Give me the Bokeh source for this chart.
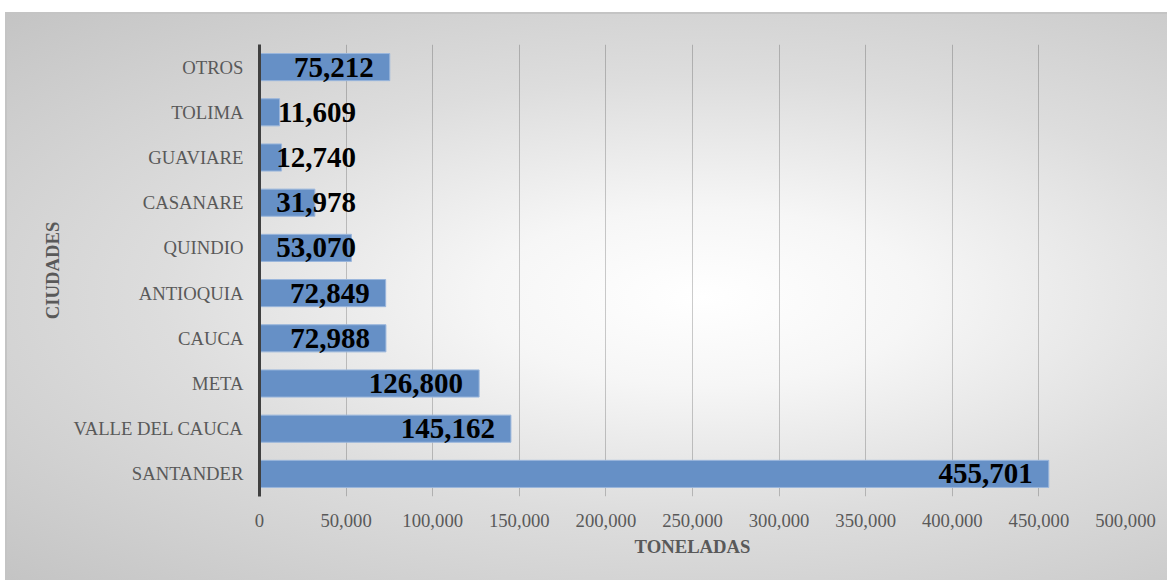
from bokeh.plotting import figure
from bokeh.models import ColumnDataSource, NumeralTickFormatter, FactorRange, Range1d, FixedTicker
from bokeh.core.properties import value
from bokeh.embed import file_html
from bokeh.resources import INLINE

cities = ["SANTANDER", "VALLE DEL CAUCA", "META", "CAUCA", "ANTIOQUIA",
          "QUINDIO", "CASANARE", "GUAVIARE", "TOLIMA", "OTROS"]
tons = [455701, 145162, 126800, 72988, 72849, 53070, 31978, 12740, 11609, 75212]
x_ticks = [0, 50000, 100000, 150000, 200000, 250000, 300000, 350000, 400000, 450000, 500000]

FONT = "Liberation Serif"
TXT = "18.7px"

src = ColumnDataSource(dict(
    city=cities,
    tons=tons,
    label=["{:,}".format(v) for v in tons],
    lx=[max(v, 65000) for v in tons],
))

p = figure(
    width=1162, height=568,
    y_range=FactorRange(factors=cities, range_padding=0),
    x_range=Range1d(0, 500000),
    output_backend="svg", toolbar_location=None,
    min_border_left=252, min_border_right=44, min_border_top=30, min_border_bottom=86,
    border_fill_alpha=0, background_fill_alpha=0, outline_line_color=None,
    styles={"background": "radial-gradient(ellipse at 60% 50%, #ffffff 0%, #f6f6f6 22%, #dddddd 55%, #c4c4c4 100%)",
            "border-top": "2px solid #c4c4c4", "border-left": "2px solid #c4c4c4",
            "margin-top": "12px", "margin-left": "5px"},
)

p.hbar(y="city", right="tons", left=0, height=0.6, source=src,
       fill_color="#6690c6", line_color="#9ab6dc", line_width=1)

p.text(x="lx", y="city", text="label", source=src,
       text_align="right", text_baseline="middle", x_offset=-16,
       text_font=value(FONT), text_font_style="bold", text_font_size="29px",
       text_color="#000000")

p.xaxis.ticker = FixedTicker(ticks=x_ticks)
p.xaxis.formatter = NumeralTickFormatter(format="0,0")
p.xaxis.axis_line_color = None
p.xaxis.major_tick_line_color = None
p.xaxis.minor_tick_line_color = None
p.xaxis.major_label_standoff = 11
p.xaxis.major_label_text_font = FONT
p.xaxis.major_label_text_font_size = TXT
p.xaxis.major_label_text_color = "#595959"
p.xaxis.axis_label = "TONELADAS"
p.xaxis.axis_label_text_font = FONT
p.xaxis.axis_label_text_font_size = TXT
p.xaxis.axis_label_text_font_style = "bold"
p.xaxis.axis_label_text_color = "#595959"
p.xaxis.axis_label_standoff = 6

p.yaxis.axis_line_color = "#404040"
p.yaxis.axis_line_width = 3
p.yaxis.major_tick_line_color = None
p.yaxis.minor_tick_line_color = None
p.yaxis.major_label_standoff = 10
p.yaxis.major_label_text_font = FONT
p.yaxis.major_label_text_font_size = TXT
p.yaxis.major_label_text_color = "#595959"
p.yaxis.axis_label = "CIUDADES"
p.yaxis.axis_label_text_font = FONT
p.yaxis.axis_label_text_font_size = TXT
p.yaxis.axis_label_text_font_style = "bold"
p.yaxis.axis_label_text_color = "#595959"
p.yaxis.axis_label_standoff = 8

p.xgrid.grid_line_color = "#000000"
p.xgrid.grid_line_alpha = 0.2
p.ygrid.grid_line_color = None

open("out.html", "w").write(file_html(p, INLINE))
